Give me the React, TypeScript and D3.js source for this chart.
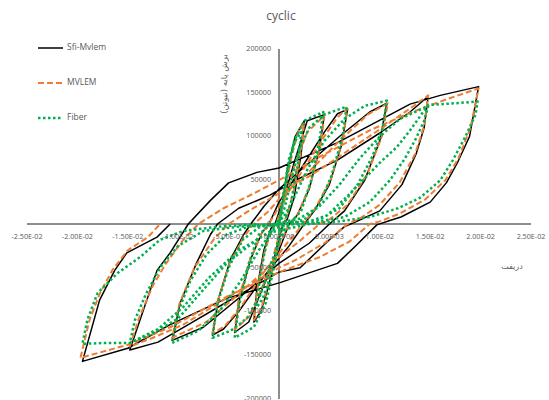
import * as d3 from 'd3';

// drift (x) vs base shear in N (y), cycle by cycle
const sfiMvlem: [number, number][] = [
  [0, 0], [0.0008, 60000], [0.0016, 100000], [0.0025, 118000],
  [0.0022, 80000], [0.0015, 30000], [0.0008, 5000], [0.0004, 0],
  [-0.0003, -30000], [-0.001, -70000], [-0.0018, -100000], [-0.0025, -112000],
  [-0.0022, -75000], [-0.0015, -30000], [-0.0008, -5000], [-0.0004, 0],
  [0.0005, 30000], [0.0015, 70000], [0.0028, 118000], [0.0045, 125000],
  [0.004, 85000], [0.003, 40000], [0.0018, 10000], [0.001, 0],
  [0, -30000], [-0.0015, -70000], [-0.003, -112000], [-0.0044, -124000],
  [-0.0039, -85000], [-0.0028, -40000], [-0.0017, -10000], [-0.001, 0],
  [0, 25000], [0.002, 60000], [0.0045, 105000], [0.0058, 126000], [0.0068, 131000],
  [0.0062, 90000], [0.005, 45000], [0.0035, 15000], [0.0025, 0],
  [0.001, -25000], [-0.0015, -60000], [-0.004, -100000], [-0.0055, -120000], [-0.0066, -127000],
  [-0.006, -85000], [-0.0048, -40000], [-0.0035, -12000], [-0.0028, 0],
  [-0.0015, 20000], [0, 40000], [0.003, 70000], [0.006, 100000], [0.009, 128000], [0.0107, 138000],
  [0.01, 95000], [0.0085, 50000], [0.0065, 15000], [0.005, 0],
  [0.003, -22000], [0, -45000], [-0.0035, -80000], [-0.0075, -118000], [-0.0106, -133000],
  [-0.0098, -90000], [-0.0082, -45000], [-0.0068, -12000], [-0.0061, 0],
  [-0.004, 18000], [-0.0009, 33000], [0.002, 52000], [0.0058, 73000], [0.01, 104000], [0.013, 128000], [0.0148, 146000],
  [0.0144, 110000], [0.0136, 80000], [0.0122, 45000], [0.01, 15000], [0.0075, 2000], [0.0065, -3000],
  [0.005, -18000], [0.0021, -50000], [0, -55000], [-0.005, -88000], [-0.009, -115000], [-0.012, -135000], [-0.0148, -144000],
  [-0.0138, -110000], [-0.0121, -53000], [-0.0108, -33000], [-0.009, 0],
  [-0.0068, 27000], [-0.005, 47000], [-0.0022, 59000], [0, 64000], [0.0058, 93000], [0.013, 137000], [0.016, 147000], [0.0198, 157000],
  [0.0189, 100000], [0.0177, 70000], [0.0166, 47000], [0.015, 25000], [0.0121, 8000], [0.011, 4000], [0.0097, -1000],
  [0.0077, -24000], [0.0058, -45000], [0.0001, -67000], [-0.0052, -85000], [-0.0108, -115000], [-0.015, -142000], [-0.0195, -157000],
  [-0.0178, -87000], [-0.0163, -53000], [-0.0151, -33000], [-0.0121, -15000], [-0.0108, 0],
];

const mvlem: [number, number][] = [
  [0, 0], [0.0006, 40000], [0.0013, 80000], [0.0019, 105000], [0.0025, 116000],
  [0.0022, 85000], [0.0015, 40000], [0.0008, 10000], [0.0003, 0],
  [-0.0004, -30000], [-0.0011, -70000], [-0.0018, -98000], [-0.0025, -110000],
  [-0.0022, -78000], [-0.0015, -35000], [-0.0008, -8000], [-0.0003, 0],
  [0.0005, 25000], [0.0015, 65000], [0.0028, 105000], [0.0045, 124000],
  [0.0041, 88000], [0.0031, 45000], [0.0019, 12000], [0.001, 0],
  [0, -25000], [-0.0014, -65000], [-0.0029, -105000], [-0.0044, -121000],
  [-0.004, -85000], [-0.0029, -42000], [-0.0018, -12000], [-0.001, 0],
  [0, 20000], [0.002, 55000], [0.0042, 95000], [0.0058, 122000], [0.0068, 132000],
  [0.0063, 95000], [0.0051, 50000], [0.0036, 18000], [0.0024, 0],
  [0.0008, -22000], [-0.0015, -55000], [-0.0038, -95000], [-0.0054, -117000], [-0.0066, -125000],
  [-0.0061, -88000], [-0.0049, -45000], [-0.0035, -15000], [-0.0025, 0],
  [-0.001, 15000], [0.0005, 35000], [0.003, 60000], [0.006, 95000], [0.0088, 125000], [0.0108, 138000],
  [0.0102, 100000], [0.0088, 58000], [0.0068, 22000], [0.005, 5000], [0.004, 0],
  [0.002, -20000], [0, -38000], [-0.0035, -75000], [-0.0072, -112000], [-0.0106, -130000],
  [-0.0099, -92000], [-0.0084, -50000], [-0.0065, -18000], [-0.005, 0],
  [-0.003, 15000], [0, 35000], [0.0035, 58000], [0.007, 85000], [0.0105, 112000], [0.013, 132000], [0.0148, 147000],
  [0.0144, 112000], [0.0135, 80000], [0.012, 48000], [0.01, 22000], [0.008, 6000], [0.0068, 0],
  [0.0045, -22000], [0.0015, -42000], [0, -50000], [-0.0045, -80000], [-0.0095, -115000], [-0.0125, -130000], [-0.0148, -140000],
  [-0.0139, -108000], [-0.0125, -70000], [-0.0112, -45000], [-0.0095, -18000], [-0.008, 0],
  [-0.0055, 18000], [-0.003, 32000], [0, 50000], [0.0034, 73000], [0.009, 107000], [0.013, 127000], [0.0165, 142000], [0.0198, 155000],
  [0.019, 110000], [0.0178, 75000], [0.0165, 50000], [0.0145, 28000], [0.012, 12000], [0.01, 3000], [0.009, 0],
  [0.007, -20000], [0.004, -38000], [0, -55000], [-0.005, -82000], [-0.0108, -118000], [-0.015, -138000], [-0.0197, -153000],
  [-0.0188, -110000], [-0.0178, -80000], [-0.0165, -52000], [-0.015, -30000], [-0.013, -15000], [-0.0118, 0],
];

const fiber: [number, number][] = [
  [0, 0], [0.0005, 40000], [0.001, 75000], [0.0016, 95000], [0.0022, 105000],
  [0.0019, 70000], [0.0012, 25000], [0.0006, 3000], [0.0002, 0],
  [-0.0003, -30000], [-0.001, -65000], [-0.0016, -85000], [-0.0022, -95000],
  [-0.0019, -60000], [-0.0012, -20000], [-0.0005, -2000], [0, 0],
  [0.0004, 25000], [0.0009, 60000], [0.0015, 95000], [0.0025, 118000], [0.0044, 128000],
  [0.004, 95000], [0.0032, 50000], [0.0022, 15000], [0.0012, 2000], [0.0005, 0],
  [0, -20000], [-0.0006, -55000], [-0.0013, -90000], [-0.0025, -118000], [-0.0044, -130000],
  [-0.004, -95000], [-0.003, -45000], [-0.002, -12000], [-0.001, -2000], [0, 0],
  [0.0006, 20000], [0.0012, 50000], [0.002, 85000], [0.003, 110000], [0.0045, 125000], [0.0067, 134000],
  [0.0063, 100000], [0.0052, 55000], [0.004, 22000], [0.0025, 5000], [0.001, 0],
  [0.0002, -15000], [-0.0008, -45000], [-0.0018, -80000], [-0.0032, -108000], [-0.0048, -122000], [-0.0066, -130000],
  [-0.0062, -95000], [-0.005, -50000], [-0.0036, -18000], [-0.002, -4000], [-0.0005, 0],
  [0.0005, 8000], [0.0015, 30000], [0.0028, 62000], [0.0045, 95000], [0.0065, 120000], [0.0085, 135000], [0.0107, 141000],
  [0.0103, 110000], [0.0093, 78000], [0.0078, 45000], [0.006, 18000], [0.004, 5000], [0.0015, 0],
  [-0.0005, -5000], [-0.002, -30000], [-0.0038, -65000], [-0.0058, -98000], [-0.008, -122000], [-0.0106, -136000],
  [-0.01, -100000], [-0.0088, -65000], [-0.0072, -35000], [-0.0052, -12000], [-0.003, -3000], [-0.0005, 0],
  [0.002, 6000], [0.004, 20000], [0.006, 45000], [0.008, 75000], [0.01, 100000], [0.012, 120000], [0.0148, 135000],
  [0.0144, 118000], [0.0136, 98000], [0.0125, 75000], [0.011, 50000], [0.009, 25000], [0.0065, 8000], [0.0035, 2000], [0, -2000],
  [-0.0022, -18000], [-0.0052, -45000], [-0.0078, -79000], [-0.01, -108000], [-0.0125, -125000], [-0.0148, -136000],
  [-0.0143, -110000], [-0.0132, -80000], [-0.0118, -50000], [-0.01, -25000], [-0.0075, -8000], [-0.004, -3000], [0, 0],
  [0.003, 3000], [0.0048, 10000], [0.0067, 31000], [0.0085, 52000], [0.01, 70000], [0.0117, 88000], [0.013, 107000],
  [0.0148, 136000], [0.0175, 138000], [0.0197, 140000],
  [0.0195, 125000], [0.0185, 100000], [0.0172, 72000], [0.016, 50000], [0.014, 30000], [0.0118, 18000], [0.009, 8000], [0.006, 3000], [0.003, 0],
  [-0.001, -10000], [-0.004, -30000], [-0.007, -62000], [-0.0095, -95000], [-0.012, -120000], [-0.0148, -136000], [-0.0175, -136000], [-0.0195, -137000],
  [-0.019, -109000], [-0.018, -79000], [-0.016, -56000], [-0.0138, -38000], [-0.0118, -18000], [-0.0095, -8000], [-0.006, -3000], [-0.002, 0],
];

const seriesNames = ['Sfi-Mvlem', 'MVLEM', 'Fiber'];
const xTicks = [-0.025, -0.02, -0.015, -0.01, -0.005, 0, 0.005, 0.01, 0.015, 0.02, 0.025];
const yTicks = [-200000, -150000, -100000, -50000, 0, 50000, 100000, 150000, 200000];

const styles = [
  { stroke: '#000000', width: 1.5, dash: 'none' },
  { stroke: '#ED7D31', width: 2, dash: '6,3' },
  { stroke: '#00B050', width: 2.5, dash: '2.5,2.5' },
];

const fmtSci = (v: number) =>
  v.toExponential(2).toUpperCase().replace(/E([+-])(\d)$/, 'E$10$2');

export default function App() {
  const width = 549;
  const height = 400;
  const x = d3.scaleLinear().domain([-0.025, 0.025]).range([27, 531]);
  const y = d3.scaleLinear().domain([-200000, 200000]).range([399, 49]);
  const line = d3
    .line<[number, number]>()
    .x((d) => x(d[0]))
    .y((d) => y(d[1]));
  const data = [sfiMvlem, mvlem, fiber];
  const tickFont = "'Open Sans', sans-serif";

  return (
    <svg
      width={width}
      height={height}
      style={{ position: 'absolute', left: 0, top: 0, background: '#fff' }}
    >
      <text x={281} y={17} textAnchor="middle" dominantBaseline="middle" fontSize={12} fill="#595959" fontFamily={tickFont}>
        cyclic
      </text>

      {/* axes */}
      <line x1={x(-0.025)} x2={x(0.025)} y1={y(0)} y2={y(0)} stroke="#1a1a1a" strokeWidth={1} />
      <line x1={x(0)} x2={x(0)} y1={y(200000)} y2={y(-200000)} stroke="#1a1a1a" strokeWidth={1} />

      {data.map((d, i) => (
        <path
          key={seriesNames[i]}
          d={line(d) || ''}
          fill="none"
          stroke={styles[i].stroke}
          strokeWidth={styles[i].width}
          strokeDasharray={styles[i].dash}
          strokeLinejoin="round"
        />
      ))}

      {xTicks.map((t) => (
        <text key={'x' + t} x={x(t)} y={y(0) + 13} textAnchor="middle" dominantBaseline="middle" fontSize={7.2} fill="#595959" fontFamily={tickFont}>
          {fmtSci(t)}
        </text>
      ))}
      {yTicks.map((t) => (
        <text key={'y' + t} x={x(0) - 8} y={y(t)} textAnchor="end" dominantBaseline="middle" fontSize={7.2} fill="#595959" fontFamily={tickFont}>
          {t}
        </text>
      ))}

      <text x={512} y={266} textAnchor="middle" dominantBaseline="middle" fontSize={8} fill="#595959" fontFamily="'DejaVu Sans', sans-serif">
        دریفت
      </text>
      <text
        transform="translate(224,84) rotate(-90)"
        textAnchor="middle"
        dominantBaseline="middle"
        fontSize={8.5}
        fill="#595959"
        fontFamily="'DejaVu Sans', sans-serif"
      >
        برش پایه (نیوتن)
      </text>

      {seriesNames.map((name, i) => {
        const ly = 48 + i * 35;
        return (
          <g key={name}>
            <line x1={38} x2={63} y1={ly} y2={ly} stroke={styles[i].stroke} strokeWidth={styles[i].width} strokeDasharray={styles[i].dash} />
            <text x={67} y={ly} dominantBaseline="middle" fontSize={8.5} fill="#595959" fontFamily={tickFont}>
              {name}
            </text>
          </g>
        );
      })}
    </svg>
  );
}
